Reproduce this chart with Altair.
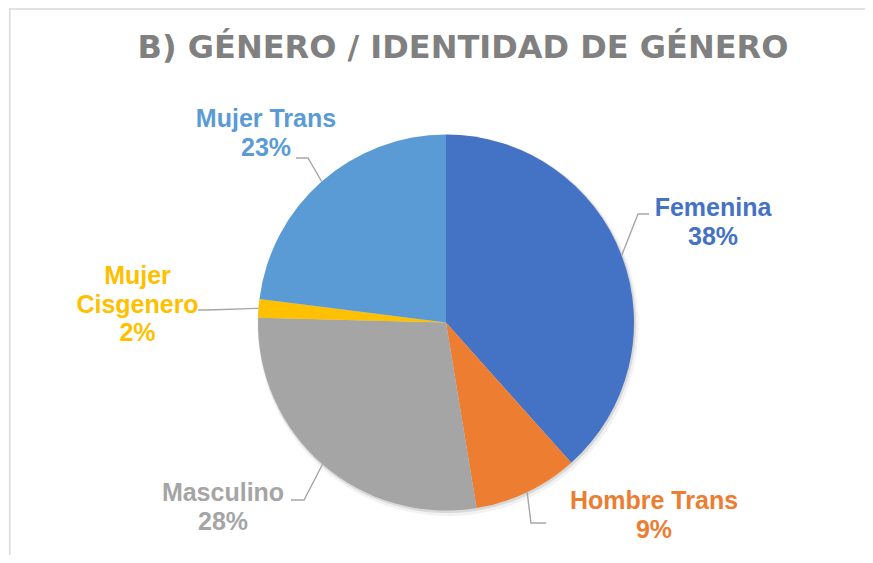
import math
import altair as alt
import pandas as pd

# ---- data ----
title_text = "B) GÉNERO / IDENTIDAD DE GÉNERO"
categories = ["Femenina", "Hombre Trans", "Masculino", "Mujer Cisgenero", "Mujer Trans"]
shares = [38.4, 9.0, 28.0, 1.6, 23.0]
pct_text = ["38%", "9%", "28%", "2%", "23%"]
label_names = ["Femenina", "Hombre Trans", "Masculino", "Mujer\nCisgenero", "Mujer Trans"]
colors = ["#4472C4", "#ED7D31", "#A5A5A5", "#FFC000", "#5B9BD5"]

# ---- layout (pixels inside the chart) ----
W, H = 857, 547
CX, CY, R = 437, 314.5, 188
label_pos = {
    "Femenina": (704, 208),
    "Hombre Trans": (645, 501),
    "Masculino": (214, 493),
    "Mujer Cisgenero": (128.5, 276),
    "Mujer Trans": (257, 119),
}
leader_tail = {
    "Femenina": [(629, 206), (640, 206)],
    "Hombre Trans": [(522, 515), (537, 515)],
    "Masculino": [(295, 492), (282, 492)],
    "Mujer Cisgenero": [(199, 302), (189, 302)],
    "Mujer Trans": [(299, 150), (287, 150)],
}

color_scale = alt.Scale(domain=categories, range=colors)

pie_df = pd.DataFrame({"cat": categories, "share": shares, "idx": range(len(categories))})

# labels
lab_rows = []
for c, n, p in zip(categories, label_names, pct_text):
    x, y = label_pos[c]
    lab_rows.append({"cat": c, "txt": n + "\n" + p, "lx": x, "ly": y})
lab_df = pd.DataFrame(lab_rows)

# leader lines: start at the slice's mid-angle on the rim
total = sum(shares)
rows = []
cum = 0.0
for c, s in zip(categories, shares):
    mid = (cum + s / 2) / total * 2 * math.pi
    cum += s
    ex, ey = CX + R * math.sin(mid), CY - R * math.cos(mid)
    pts = [(ex, ey)] + leader_tail[c]
    for k, (px, py) in enumerate(pts):
        rows.append({"cat": c, "k": k, "px": px, "py": py})
lead_df = pd.DataFrame(rows)

one = pd.DataFrame({"a": [0]})

shadow1 = alt.Chart(pie_df).mark_arc(radius=R + 2.5, color="#000000", opacity=0.05).encode(
    theta=alt.Theta("share:Q", stack=True), order=alt.Order("idx:Q"),
    x=alt.value(CX + 2), y=alt.value(CY + 3),
)
shadow2 = alt.Chart(pie_df).mark_arc(radius=R + 1, color="#000000", opacity=0.10).encode(
    theta=alt.Theta("share:Q", stack=True), order=alt.Order("idx:Q"),
    x=alt.value(CX + 1), y=alt.value(CY + 1.5),
)

pie = alt.Chart(pie_df).mark_arc(radius=R).encode(
    theta=alt.Theta("share:Q", stack=True),
    order=alt.Order("idx:Q"),
    color=alt.Color("cat:N", scale=color_scale, legend=None),
    x=alt.value(CX), y=alt.value(CY),
    tooltip=["cat:N", "share:Q"],
)

leaders = alt.Chart(lead_df).mark_line(color="#A6A6A6", strokeWidth=1.4).encode(
    x=alt.X("px:Q", scale=None, axis=None),
    y=alt.Y("py:Q", scale=None, axis=None),
    detail="cat:N",
    order="k:Q",
)

labels = alt.Chart(lab_df).mark_text(
    font="Liberation Sans", fontWeight="bold", fontSize=25, lineBreak="\n",
    lineHeight=28.5, align="center", baseline="alphabetic",
).encode(
    x=alt.X("lx:Q", scale=None, axis=None),
    y=alt.Y("ly:Q", scale=None, axis=None),
    text="txt:N",
    color=alt.Color("cat:N", scale=color_scale, legend=None),
)

title = alt.Chart(one).mark_text(
    font="DejaVu Sans", fontWeight="bold", fontSize=32, color="#808080",
    align="center", baseline="alphabetic",
).encode(x=alt.value(454), y=alt.value(50), text=alt.value(title_text))

border_top = alt.Chart(one).mark_rule(color="#D9D9D9", strokeWidth=1.5).encode(
    x=alt.value(0), x2=alt.value(W), y=alt.value(1))
border_left = alt.Chart(one).mark_rule(color="#D9D9D9", strokeWidth=1.5).encode(
    x=alt.value(0.75), y=alt.value(1), y2=alt.value(H))

chart = alt.layer(
    border_top, border_left, shadow1, shadow2, pie, leaders, labels, title
).properties(
    width=W, height=H, padding=0,
    autosize=alt.AutoSizeParams(type="fit", contains="padding"),
).configure_view(stroke=None)

chart.save("out.html", embed_options={"renderer": "svg", "actions": False})
